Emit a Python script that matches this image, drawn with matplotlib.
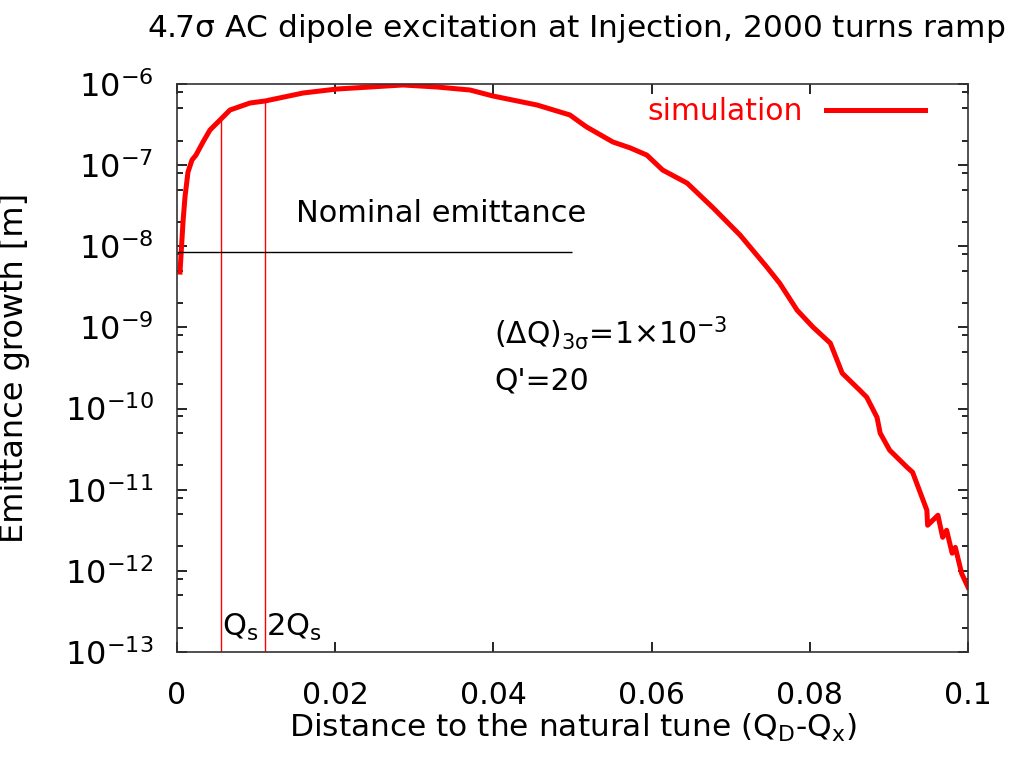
import matplotlib
matplotlib.use('Agg')
import matplotlib.pyplot as plt
from matplotlib.ticker import LogLocator, FixedLocator, NullFormatter

# values
dq = [0.00038, 0.00076, 0.00101, 0.00139, 0.0019, 0.0024, 0.00329, 0.00417,
      0.00544, 0.0067, 0.00923, 0.01113, 0.01593, 0.02023, 0.0244, 0.02857,
      0.03287, 0.03704, 0.03995, 0.04551, 0.04968, 0.0509, 0.0518, 0.0551, 0.0573,
      0.0594, 0.0614, 0.0645, 0.0678, 0.0712, 0.0746, 0.0762, 0.0784, 0.0804,
      0.0826, 0.0841, 0.0863, 0.0872, 0.0885, 0.0889, 0.0901, 0.0923, 0.0930,
      0.0948, 0.0949, 0.0962, 0.0968, 0.0973, 0.0980, 0.0984, 0.0992, 0.1000]
emit = [4.81e-9, 1.99e-8, 4.05e-8, 8.22e-8, 1.16e-7, 1.33e-7, 1.93e-7, 2.71e-7,
        3.60e-7, 4.78e-7, 5.83e-7, 6.17e-7, 7.74e-7, 8.67e-7, 9.18e-7, 9.72e-7,
        9.18e-7, 8.43e-7, 7.11e-7, 5.51e-7, 4.15e-7, 3.4e-7, 2.95e-7, 1.93e-7, 1.63e-7,
        1.33e-7, 8.7e-8, 6.0e-8, 2.96e-8, 1.37e-8, 5.5e-9, 3.5e-9, 1.63e-9, 1.01e-9,
        6.4e-10, 2.73e-10, 1.69e-10, 1.38e-10, 7.8e-11, 4.98e-11, 3.07e-11, 1.89e-11, 1.64e-11,
        5.6e-12, 3.65e-12, 4.85e-12, 2.59e-12, 3.17e-12, 1.65e-12, 1.95e-12, 9.3e-13, 6.3e-13]

qs_x = [0.0055, 0.0111]
qs_top = [3.6e-7, 6.2e-7]
qs_labels = ['$Q_s$', '$2Q_s$']

nominal_emit = 8.5e-9
nominal_range = [0.0, 0.05]

xticks = [0, 0.02, 0.04, 0.06, 0.08, 0.1]
xtick_labels = ['0', '0.02', '0.04', '0.06', '0.08', '0.1']
ytick_exp = [-13, -12, -11, -10, -9, -8, -7, -6]

plt.rcParams['font.family'] = ['DejaVu Sans']
plt.rcParams['mathtext.default'] = 'regular'
plt.rcParams['font.size'] = 21.5

fig = plt.figure(figsize=(10.12, 7.67), dpi=100)
ax = fig.add_axes([0.1749, 0.1499, 0.7816, 0.7406])

ax.plot(dq, emit, color='red', lw=3.6, label='simulation')
ax.vlines(qs_x, 1e-13, qs_top, color='red', lw=1)
ax.hlines(nominal_emit, nominal_range[0], nominal_range[1], color='black', lw=1)

ax.set_yscale('log')
ax.set_xlim(0, 0.1)
ax.set_ylim(1e-13, 1e-6)

ax.xaxis.set_major_locator(FixedLocator(xticks))
ax.set_xticklabels(xtick_labels)
ax.yaxis.set_major_locator(FixedLocator([10.0 ** e for e in ytick_exp]))
ax.set_yticklabels(['$10^{%d}$' % e for e in ytick_exp], fontsize=23)
ax.yaxis.set_minor_locator(LogLocator(base=10, subs=(2, 5, 8)))
ax.yaxis.set_minor_formatter(NullFormatter())

ax.tick_params(which='both', direction='in', top=True, right=True, width=1.2)
ax.tick_params(which='major', length=7.5)
ax.tick_params(which='minor', length=4.5)
ax.tick_params(axis='x', pad=21)
ax.tick_params(axis='y', pad=17)
for s in ax.spines.values():
    s.set_linewidth(1.2)
    s.set_color('#333333')

for x, lab in zip(qs_x, qs_labels):
    ax.text(x + 0.0002, 2.0e-13, lab, ha='left', va='center', fontsize=22)
ax.text(0.0150, 2.5e-8, 'Nominal emittance', ha='left', va='center', fontsize=22)
ax.text(0.0401, 8.5e-10, r'$(\Delta Q)_{3\sigma}$=1$\times$10$^{-3}$', ha='left', va='center')
ax.text(0.0401, 2.2e-10, "Q'=20", ha='left', va='center')

leg = ax.legend(loc='center right', bbox_to_anchor=(0.9456, 0.9507), frameon=False,
                markerfirst=False, labelcolor='red', handlelength=3.3,
                handletextpad=0.8, borderaxespad=0, borderpad=0)

fig.text(0.569, 0.952, r'4.7$\sigma$ AC dipole excitation at Injection, 2000 turns ramp',
         ha='center', va='baseline', fontsize=22.5)
fig.text(0.566, 0.039, 'Distance to the natural tune ($Q_D$-$Q_x$)', ha='center',
         va='baseline', fontsize=22.5)
fig.text(0.0148, 0.52, 'Emittance growth [m]', rotation=90, ha='center', va='center',
         fontsize=23)

fig.savefig('out.png', dpi=100)
